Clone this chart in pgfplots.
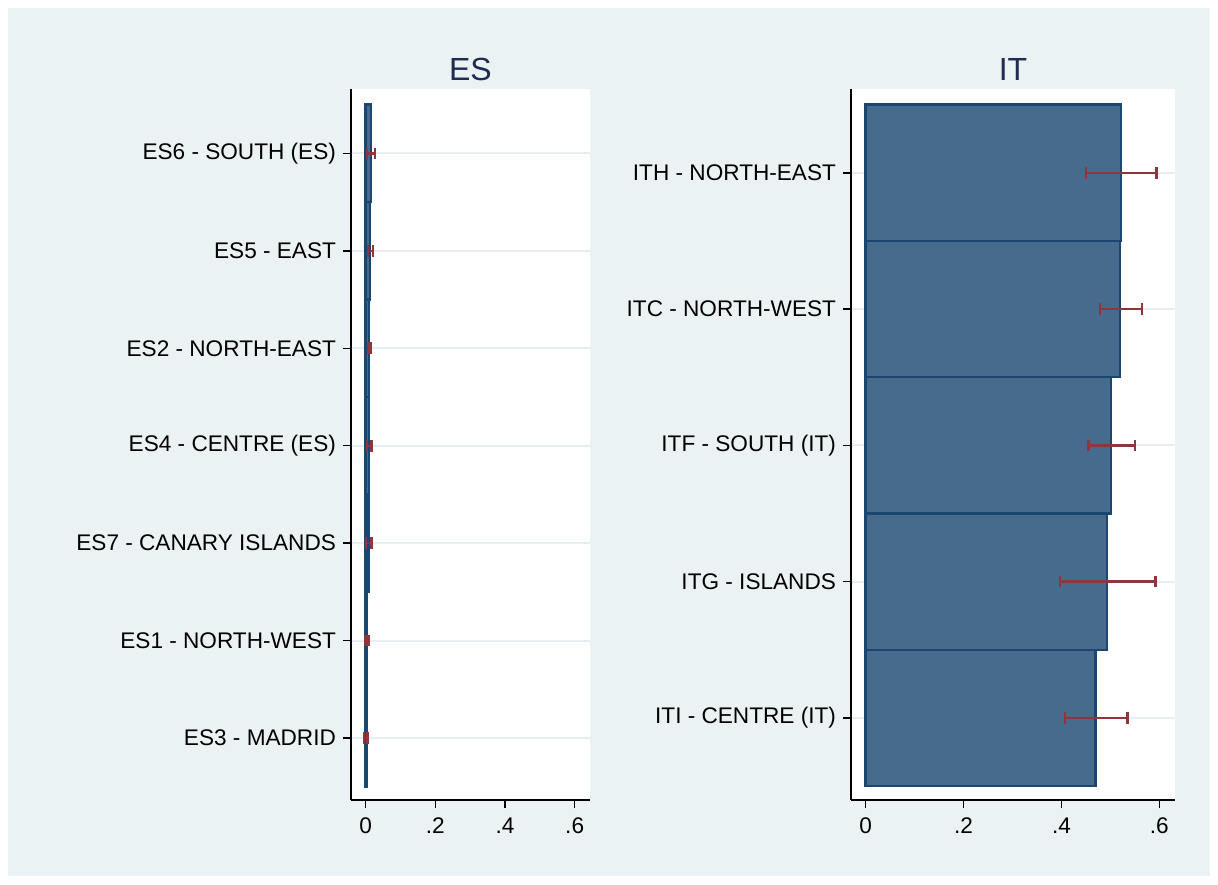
\documentclass[border=0pt]{standalone}
\usepackage{pgfplots}
\usepackage{pgfplotstable}
\pgfplotsset{compat=1.18}
\usepackage{fontspec}
\setmainfont{Liberation Sans}

\definecolor{bgStata}{HTML}{EAF2F3}
\definecolor{barFill}{HTML}{476B8D}
\definecolor{barLine}{HTML}{1A476F}
\definecolor{ciRed}{HTML}{90353B}
\definecolor{titleNavy}{HTML}{1E2C50}
\definecolor{gridPale}{HTML}{E6EEF1}

% pos = row from bottom, mean = bar length, lo/hi = interval ends
\pgfplotstableread{
pos mean lo hi
1 0.0030 -0.0040 0.0050
2 0.0046 0.0000 0.0080
3 0.0080 0.0010 0.0170
4 0.0100 0.0046 0.0170
5 0.0105 0.0086 0.0160
6 0.0124 0.0066 0.0210
7 0.0160 0.0046 0.0267
}\estab

\pgfplotstableread{
pos mean lo hi
1 0.4692 0.4073 0.5346
2 0.4932 0.3971 0.5919
3 0.5007 0.4549 0.5504
4 0.5197 0.4788 0.5641
5 0.5218 0.4502 0.5939
}\ittab

\pgfplotsset{
  panel/.style={
    scale only axis,
    height=355.5pt,
    axis x line*=bottom,
    axis y line*=left,
    axis line style={black, line width=0.75pt},
    axis background/.style={fill=white},
    tick align=outside,
    major tick length=4pt,
    tick style={black, line width=0.75pt},
    ymajorgrids,
    major grid style={draw=gridPale, line width=1pt},
    xtick={0,0.2,0.4,0.6},
    xticklabels={0,.2,.4,.6},
    tick label style={font=\fontsize{11.3}{13}\selectfont, text=black},
    xticklabel style={yshift=-1.5pt},
    title style={at={(0.5,1)}, anchor=center, yshift=4pt,
      font=\fontsize{16}{19}\selectfont, text=titleNavy},
  },
  bars/.style={xbar, bar width=1, fill=barFill, draw=barLine, line width=1.2pt},
  ci/.style={draw=none, mark=none,
    error bars/.cd, x dir=both, x explicit,
    error mark=|,
    error bar style={draw=ciRed, line width=1.2pt, solid},
    error mark options={draw=ciRed, mark size=2.9pt, line width=1.2pt}},
}

\begin{document}
\begin{tikzpicture}
  \fill[white] (-175.5pt,-42pt) rectangle (433.5pt,400pt);
  \fill[bgStata] (-171.5pt,-38pt) rectangle (429.5pt,396pt);

  \begin{axis}[
    panel,
    at={(0,0)}, anchor=south west,
    width=119.5pt,
    xmin=-0.042, xmax=0.644,
    ymin=0.364, ymax=7.661,
    ytick={1,2,3,4,5,6,7},
    yticklabels={ES3 - MADRID, ES1 - NORTH-WEST, ES7 - CANARY ISLANDS,
      ES4 - CENTRE (ES), ES2 - NORTH-EAST, ES5 - EAST, ES6 - SOUTH (ES)},
    title={ES},
  ]
    \addplot[bars] table[x=mean, y=pos] {\estab};
    \addplot[ci] table[x=mean, y=pos,
      x error plus expr=\thisrow{hi}-\thisrow{mean},
      x error minus expr=\thisrow{mean}-\thisrow{lo}] {\estab};
  \end{axis}

  \begin{axis}[
    panel,
    at={(250pt,0)}, anchor=south west,
    width=162pt,
    xmin=-0.030, xmax=0.632,
    ymin=0.397, ymax=5.615,
    ytick={1,2,3,4,5},
    yticklabels={ITI - CENTRE (IT), ITG - ISLANDS, ITF - SOUTH (IT),
      ITC - NORTH-WEST, ITH - NORTH-EAST},
    title={IT},
  ]
    \addplot[bars] table[x=mean, y=pos] {\ittab};
    \addplot[ci] table[x=mean, y=pos,
      x error plus expr=\thisrow{hi}-\thisrow{mean},
      x error minus expr=\thisrow{mean}-\thisrow{lo}] {\ittab};
  \end{axis}
\end{tikzpicture}
\end{document}
